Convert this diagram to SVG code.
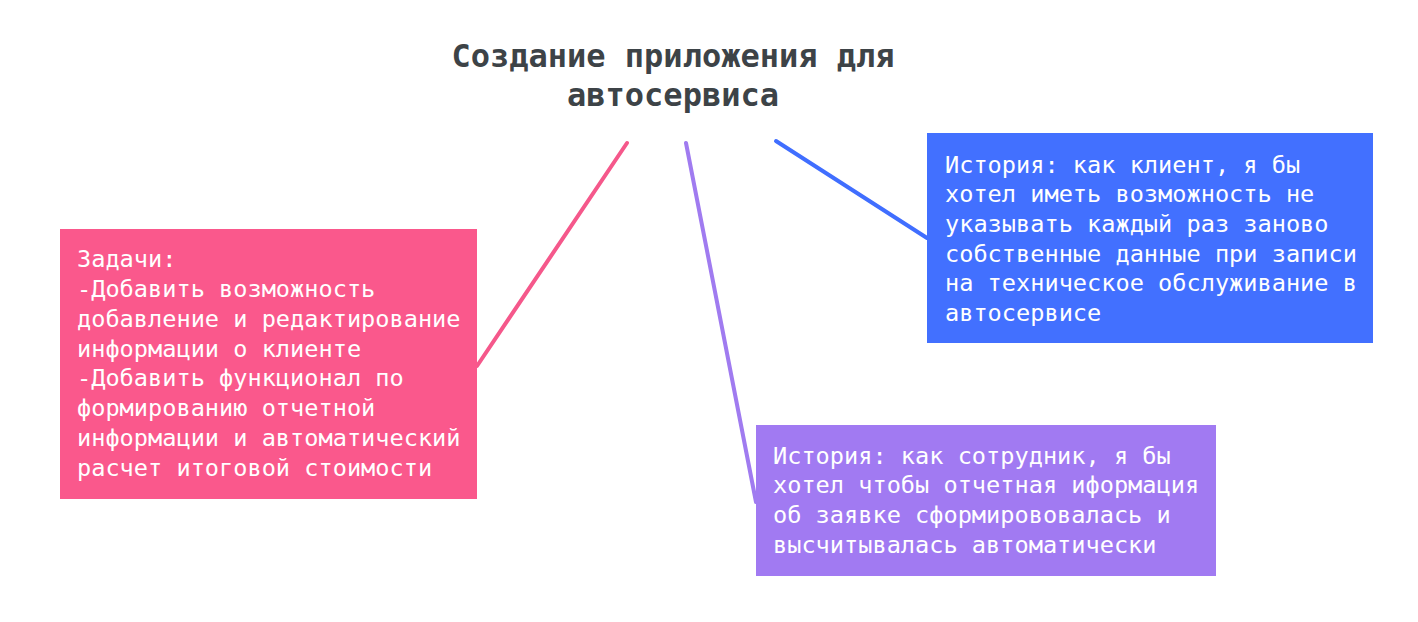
<svg xmlns="http://www.w3.org/2000/svg" width="1418" height="622" viewBox="0 0 1418 622">
<style>
.t{font-family:"DejaVu Sans Mono","Liberation Mono",monospace;font-size:23.6px;fill:#ffffff}
.title{font-family:"DejaVu Sans Mono","Liberation Mono",monospace;font-size:32px;font-weight:bold;fill:#3d4347;text-anchor:middle}
.c{fill:none;stroke-width:4;stroke-linecap:round}
</style>
<rect width="1418" height="622" fill="#ffffff"/>
<g id="title">
<text class="title" x="673" y="67">Создание приложения для</text>
<text class="title" x="673" y="106">автосервиса</text>
</g>
<g id="connectors">
<line class="c" x1="627" y1="143" x2="477" y2="366" stroke="#f5588b"/>
<line class="c" x1="686" y1="143" x2="756" y2="502" stroke="#a07bf0"/>
<line class="c" x1="776" y1="141" x2="927" y2="238" stroke="#406eff"/>
</g>
<g id="tasks">
<rect x="60" y="229" width="417" height="270" fill="#fa588c"/>
<text class="t" x="77" y="267">Задачи:</text>
<text class="t" x="77" y="297">-Добавить возможность</text>
<text class="t" x="77" y="327">добавление и редактирование</text>
<text class="t" x="77" y="357">информации о клиенте</text>
<text class="t" x="77" y="386">-Добавить функционал по</text>
<text class="t" x="77" y="416">формированию отчетной</text>
<text class="t" x="77" y="446">информации и автоматический</text>
<text class="t" x="77" y="476">расчет итоговой стоимости</text>
</g>
<g id="story-client">
<rect x="927" y="133" width="446" height="210" fill="#4270ff"/>
<text class="t" x="945" y="173">История: как клиент, я бы</text>
<text class="t" x="945" y="202">хотел иметь возможность не</text>
<text class="t" x="945" y="232">указывать каждый раз заново</text>
<text class="t" x="945" y="262">собственные данные при записи</text>
<text class="t" x="945" y="291">на техническое обслуживание в</text>
<text class="t" x="945" y="321">автосервисе</text>
</g>
<g id="story-employee">
<rect x="756" y="425" width="460" height="151" fill="#a17af2"/>
<text class="t" x="773" y="464">История: как сотрудник, я бы</text>
<text class="t" x="773" y="493">хотел чтобы отчетная иформация</text>
<text class="t" x="773" y="523">об заявке сформирововалась и</text>
<text class="t" x="773" y="553">высчитывалась автоматически</text>
</g>
</svg>
